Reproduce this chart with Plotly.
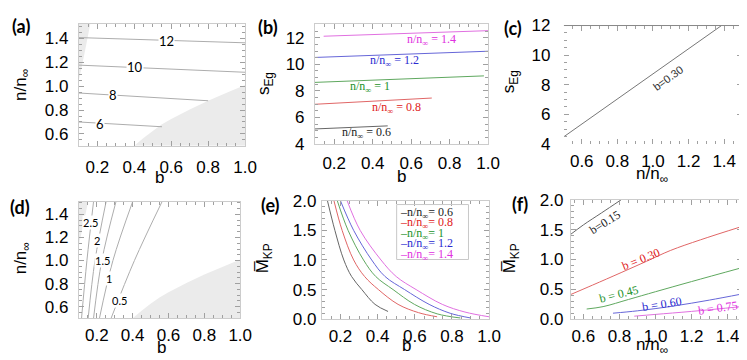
import plotly.graph_objects as go

W, H = 747, 360

# ---- panel (a): s_Eg contour lines in the (b, n/n_inf) plane
a_levels = ["6", "8", "10", "12"]
a_line_b = [[0.1, 0.55], [0.1, 0.8], [0.1, 1.0], [0.1, 1.0]]
a_line_n = [[0.70, 0.66], [0.943, 0.878], [1.177, 1.117], [1.408, 1.364]]
a_label_b = [0.217, 0.287, 0.404, 0.577]
a_label_n = [0.687, 0.928, 1.159, 1.382]

# excluded (grey) regions, shared shape in (a) and (d)
wedge_a_b = [0.1, 0.162, 0.136, 0.118, 0.1]
wedge_a_n = [1.525, 1.525, 1.316, 1.18, 1.05]
wedge_d_b = [0.1, 0.152, 0.13, 0.112, 0.1]
wedge_d_n = [1.51, 1.51, 1.35, 1.22, 1.14]
region_b = [0.4, 0.45, 0.5, 0.55, 0.6, 0.7, 0.8, 0.9, 1.0, 1.0]
region_n = [0.5, 0.565, 0.625, 0.68, 0.725, 0.805, 0.878, 0.945, 1.01, 0.5]

# ---- panel (b): s_Eg vs b for several n/n_inf
b_names = ["0.6", "0.8", "1", "1.2", "1.4"]
line_colors = ["#666666", "#e06666", "#5fa85f", "#6666d8", "#e070e0"]
text_colors = ["#222222", "#e02020", "#22922a", "#2a2ad0", "#e030e0"]
b_x = [[0.1, 0.478], [0.1, 0.707], [0.1, 0.978], [0.1, 1.0], [0.145, 1.0]]
b_s = [[5.13, 5.36], [6.99, 7.46], [8.64, 9.13], [10.52, 10.99], [12.12, 12.54]]
b_label_x = [0.368, 0.526, 0.388, 0.512, 0.707]
b_label_s = [4.83, 6.70, 8.30, 10.23, 11.83]

# ---- panel (c): s_Eg vs n/n_inf at b = 0.30
c_n = [0.5, 1.385]
c_s = [4.49, 12.0]

# ---- panel (d): M_KP contour lines
d_levels = ["0.5", "1", "1.5", "2", "2.5"]
d_line_b = [[0.28, 0.41, 0.564], [0.215, 0.29, 0.40], [0.182, 0.228, 0.307],
            [0.152, 0.19, 0.252], [0.115, 0.145, 0.182]]
d_line_n = [[0.5, 1.0, 1.51], [0.5, 1.0, 1.51], [0.5, 1.0, 1.51],
            [0.5, 1.0, 1.51], [0.5, 1.0, 1.51]]
d_label_b = [0.326, 0.268, 0.23, 0.2, 0.163]
d_label_n = [0.657, 0.84, 1.004, 1.173, 1.326]

# ---- panel (e): M_KP vs b
e_b = [
    [0.13, 0.17, 0.218, 0.26, 0.315, 0.386, 0.456],
    [0.165, 0.209, 0.271, 0.33, 0.404, 0.51, 0.62, 0.72],
    [0.183, 0.241, 0.324, 0.39, 0.483, 0.598, 0.72, 0.845],
    [0.2, 0.271, 0.368, 0.44, 0.545, 0.677, 0.79, 0.9],
    [0.236, 0.306, 0.418, 0.5, 0.607, 0.748, 0.87, 1.0],
]
e_m = [
    [2.0, 1.5, 1.0, 0.72, 0.5, 0.25, 0.13],
    [2.0, 1.5, 1.0, 0.72, 0.5, 0.25, 0.11, 0.04],
    [2.0, 1.5, 1.0, 0.72, 0.5, 0.25, 0.09, 0.02],
    [2.0, 1.5, 1.0, 0.72, 0.5, 0.25, 0.1, 0.02],
    [2.0, 1.5, 1.0, 0.72, 0.5, 0.25, 0.12, 0.04],
]

# ---- panel (f): M_KP vs n/n_inf for several b
f_names = ["b=0.15", "b = 0.30", "b = 0.45", "b = 0.60", "b = 0.75"]
f_n = [
    [0.527, 0.6, 0.7, 0.809],
    [0.527, 0.65, 0.809, 0.95, 1.082, 1.25, 1.476],
    [0.618, 0.709, 0.85, 1.0, 1.2, 1.476],
    [0.764, 0.9, 1.1, 1.3, 1.476],
    [0.882, 1.0, 1.2, 1.476],
]
f_m = [
    [1.416, 1.58, 1.78, 2.0],
    [0.41, 0.57, 0.78, 0.97, 1.15, 1.33, 1.55],
    [0.17, 0.21, 0.33, 0.46, 0.63, 0.86],
    [0.1, 0.14, 0.22, 0.32, 0.42],
    [0.05, 0.08, 0.13, 0.21],
]
f_label_n = [0.722, 0.922, 0.8, 1.036, 1.345]
f_label_m = [1.63, 1.01, 0.42, 0.25, 0.18]
f_label_angle = [-32, -22, -14, -9, -8]

GREY = "#ebebeb"
CONTOUR = "#adadad"
SERIF = "Liberation Serif"
SANS = "Liberation Sans"

fig = go.Figure()


def px_x(p):
    return p / W


def px_y(p):
    return 1 - p / H


# panel (a)
fig.add_trace(go.Scatter(x=wedge_a_b, y=wedge_a_n, fill="toself", fillcolor=GREY,
                         mode="none", xaxis="x", yaxis="y"))
fig.add_trace(go.Scatter(x=region_b, y=region_n, fill="toself", fillcolor=GREY,
                         mode="none", xaxis="x", yaxis="y"))
for xs, ys in zip(a_line_b, a_line_n):
    fig.add_trace(go.Scatter(x=xs, y=ys, mode="lines", line=dict(color=CONTOUR, width=1),
                             xaxis="x", yaxis="y"))

# panel (b)
for xs, ys, col in zip(b_x, b_s, line_colors):
    fig.add_trace(go.Scatter(x=xs, y=ys, mode="lines", line=dict(color=col, width=1),
                             xaxis="x2", yaxis="y2"))

# panel (c)
fig.add_trace(go.Scatter(x=c_n, y=c_s, mode="lines", line=dict(color="#777777", width=1),
                         xaxis="x3", yaxis="y3"))

# panel (d)
fig.add_trace(go.Scatter(x=wedge_d_b, y=wedge_d_n, fill="toself", fillcolor=GREY,
                         mode="none", xaxis="x4", yaxis="y4"))
fig.add_trace(go.Scatter(x=region_b, y=region_n, fill="toself", fillcolor=GREY,
                         mode="none", xaxis="x4", yaxis="y4"))
for xs, ys in zip(d_line_b, d_line_n):
    fig.add_trace(go.Scatter(x=xs, y=ys, mode="lines",
                             line=dict(color=CONTOUR, width=1, shape="spline"),
                             xaxis="x4", yaxis="y4"))

# panel (e)
for xs, ys, col in zip(e_b, e_m, line_colors):
    fig.add_trace(go.Scatter(x=xs, y=ys, mode="lines", line=dict(color=col, width=1, shape="spline"),
                             xaxis="x5", yaxis="y5"))

# panel (f)
for xs, ys, col in zip(f_n, f_m, line_colors):
    fig.add_trace(go.Scatter(x=xs, y=ys, mode="lines", line=dict(color=col, width=1, shape="spline"),
                             xaxis="x6", yaxis="y6"))


def axis(rng, dtick, minor, fmt, dom, anchor, standoff, linecolor="#cccccc"):
    return dict(
        range=rng, dtick=dtick, tickformat=fmt, domain=dom, anchor=anchor,
        showline=True, linecolor=linecolor, linewidth=1, mirror="allticks",
        ticks="inside", ticklen=5, tickcolor="#a0a0a0",
        minor=dict(ticks="inside", ticklen=3, dtick=minor, tickcolor="#a0a0a0"),
        showgrid=False, zeroline=False, ticklabelstandoff=standoff,
        tickfont=dict(family=SANS, size=17, color="black"),
    )


NOLINE = "rgba(255,255,255,0)"

fig.update_layout(
    width=W, height=H, margin=dict(l=0, r=0, t=0, b=0),
    plot_bgcolor="white", paper_bgcolor="white", showlegend=False,
    xaxis=axis([0.1, 1.0], 0.2, 0.05, ".1f", [px_x(72), px_x(241)], "y", 6),
    yaxis=axis([0.5, 1.525], 0.2, 0.05, ".1f", [px_y(136), px_y(7)], "x", 6),
    xaxis2=axis([0.1, 1.0], 0.2, 0.05, ".1f", [px_x(312), px_x(488)], "y2", 4),
    yaxis2=axis([4, 13.07], 2, 0.5, "d", [px_y(134), px_y(7)], "x2", 6),
    xaxis3=axis([0.5, 1.5], 0.2, 0.05, ".1f", [px_x(565), px_x(746)], "y3", 2, NOLINE),
    yaxis3=axis([4, 12], 2, 0.5, "d", [px_y(134), px_y(9)], "x3", 9, NOLINE),
    xaxis4=axis([0.1, 1.0], 0.2, 0.05, ".1f", [px_x(72), px_x(236)], "y4", 1),
    yaxis4=axis([0.5, 1.51], 0.2, 0.05, ".1f", [px_y(318), px_y(195)], "x4", 6),
    xaxis5=axis([0.1, 1.0], 0.2, 0.05, ".1f", [px_x(319), px_x(489)], "y5", 1),
    yaxis5=axis([0, 2], 0.5, 0.1, ".1f", [px_y(319), px_y(194)], "x5", 1),
    xaxis6=axis([0.53, 1.48], 0.2, 0.05, ".1f", [px_x(572), px_x(746)], "y6", 1),
    yaxis6=axis([0, 2], 0.5, 0.1, ".1f", [px_y(319), px_y(193)], "x6", 3),
)

# top frame line of panel (c)
fig.add_shape(type="line", xref="paper", yref="paper", x0=px_x(565), x1=px_x(746),
              y0=px_y(9), y1=px_y(9), line=dict(color="#888888", width=1))

# legend box of panel (e)
fig.add_shape(type="rect", xref="paper", yref="paper", x0=px_x(395), x1=px_x(468),
              y0=px_y(256), y1=px_y(198), line=dict(color="#c8c8c8", width=1))

ann = []


def label(text, x, y, xref, yref, font, angle=0, bg=None, xanchor="center"):
    d = dict(x=x, y=y, xref=xref, yref=yref, text=text, showarrow=False, textangle=angle,
             xanchor=xanchor, yanchor="middle", font=font, borderpad=0)
    if bg:
        d["bgcolor"] = bg
    return d


# contour labels
for lab, bx, ny in zip(a_levels, a_label_b, a_label_n):
    ann.append(label(lab, bx, ny, "x", "y", dict(family="Lato", size=13, color="black"), bg="white"))
for lab, bx, ny in zip(d_levels, d_label_b, d_label_n):
    ann.append(label(lab, bx, ny, "x4", "y4", dict(family="Lato", size=11, color="black"), bg="white"))

# panel (b) labels
for name, col, bx, sy in zip(b_names, text_colors, b_label_x, b_label_s):
    ann.append(label("n/n<sub>∞</sub> = " + name, bx, sy, "x2", "y2",
                     dict(family=SERIF, size=12, color=col)))

# panel (c) label
ann.append(label("b=0.30", 1.085, 8.46, "x3", "y3", dict(family=SANS, size=11, color="#333333"),
                 angle=-36))

# panel (e) legend entries
for i, (name, col) in enumerate(zip(b_names, text_colors)):
    ann.append(label("–n/n<sub>∞</sub>= " + name, px_x(397), px_y(206.5 + 11.2 * i), "paper", "paper",
                     dict(family=SERIF, size=12, color=col), xanchor="left"))

# panel (f) labels
for name, col, nx, my, ang in zip(f_names, text_colors, f_label_n, f_label_m, f_label_angle):
    ann.append(label(name, nx, my, "x6", "y6", dict(family=SERIF, size=12, color=col), angle=ang))

# panel letters
for lab, x, y in [("(a)", 13, 10), ("(b)", 264, 11), ("(c)", 513, 12),
                  ("(d)", 12.5, 201), ("(e)", 267, 198), ("(f)", 520, 197)]:
    ann.append(label("<b>" + lab + "</b>", px_x(x), px_y(y), "paper", "paper",
                     dict(family="Lato", size=18, color="black")))

# axis titles
for lab, x, y in [("b", 154, 169), ("b", 400, 168), ("n/n<sub>∞</sub>", 655, 167),
                  ("b", 156, 349), ("b", 405, 347), ("n/n<sub>∞</sub>", 655, 347)]:
    ann.append(label(lab, px_x(x), px_y(y), "paper", "paper", dict(family=SANS, size=17, color="black")))

for lab, x, y in [("n/n<sub>∞</sub>", 14, 72), ("s<sub>Eg</sub>", 262, 70), ("s<sub>Eg</sub>", 511, 68),
                  ("n/n<sub>∞</sub>", 14, 255), ("M\u0305<sub>KP</sub>", 260, 255),
                  ("M\u0305<sub>KP</sub>", 511, 255)]:
    ann.append(label(lab, px_x(x), px_y(y), "paper", "paper", dict(family=SANS, size=17, color="black"),
                     angle=-90))

fig.update_layout(annotations=ann)

fig.write_html("out.html")
